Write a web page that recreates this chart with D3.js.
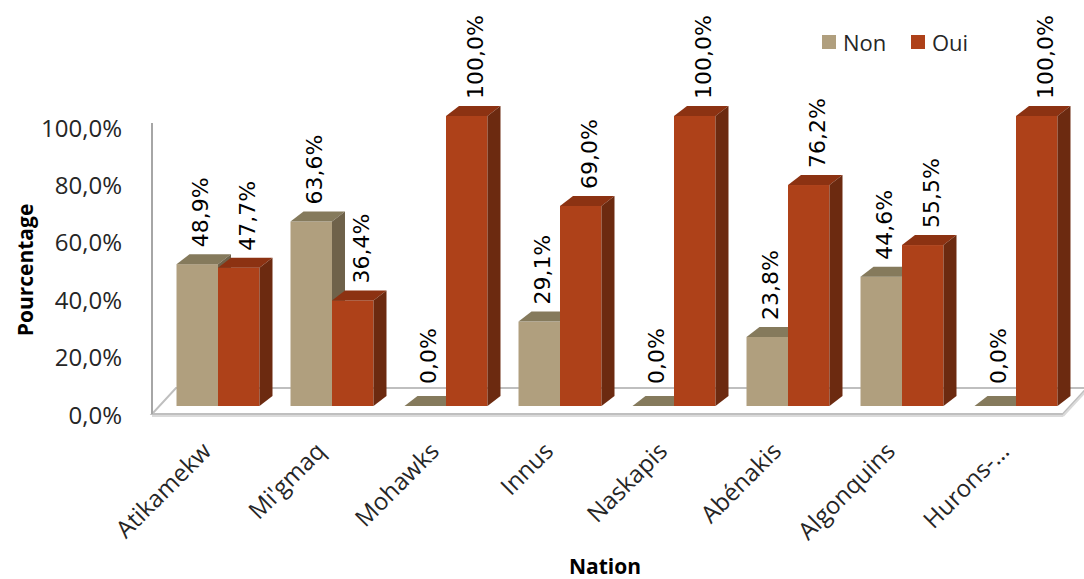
<!DOCTYPE html>
<html>
<head>
<meta charset="utf-8">
<script src="https://cdn.jsdelivr.net/npm/d3@7"></script>
<style>
  body { margin: 0; background: #fff; }
  text { fill: #000; }
</style>
</head>
<body>
<div id="barChart"></div>
<script>
// data
const categories = ["Atikamekw", "Mi'gmaq", "Mohawks", "Innus", "Naskapis", "Abénakis", "Algonquins", "Hurons-…"];
const nonValues = [48.9, 63.6, 0.0, 29.1, 0.0, 23.8, 44.6, 0.0];
const ouiValues = [47.7, 36.4, 100.0, 69.0, 100.0, 76.2, 55.5, 100.0];
const seriesNames = ["Non", "Oui"];
const yTicks = [0, 20, 40, 60, 80, 100];

const width = 1084,
  height = 579;

// colours: front, top, side
const colors = {
  Non: { front: "#b09f7e", top: "#857a5c", side: "#6f624a" },
  Oui: { front: "#ae4119", top: "#8c3212", side: "#6c2a10" },
};

// 3d depth of the bars and of the floor
const depth = { dx: 13, dy: 10 };
const floorDepth = { dx: 24, dy: 26 };

const svg = d3
  .select("#barChart")
  .append("svg")
  .attr("width", width)
  .attr("height", height);

const x = d3
  .scaleBand()
  .domain(categories)
  .range([161, 1073])
  .paddingInner(0.272)
  .paddingOuter(0.136);

const xSub = d3.scaleBand().domain(seriesNames).range([0, x.bandwidth()]);

// bars sit a bit back from the axis plane
const yBar = d3.scaleLinear().domain([0, 100]).range([406, 116]);
const yAxis = d3.scaleLinear().domain([0, 100]).range([414, 127]);

const fmt = function (v) {
  return v.toFixed(1).replace(".", ",") + "%";
};

// floor
const fx0 = 152,
  fx1 = 1063,
  fy = 414;
svg
  .append("polygon")
  .attr(
    "points",
    [
      [fx0, fy],
      [fx1, fy],
      [fx1 + floorDepth.dx, fy - floorDepth.dy],
      [fx0 + floorDepth.dx, fy - floorDepth.dy],
    ].join(" ")
  )
  .attr("fill", "#fff")
  .attr("stroke", "#bfbfbf")
  .attr("stroke-width", 2);
svg
  .append("line")
  .attr("x1", fx0)
  .attr("x2", fx1)
  .attr("y1", fy + 2)
  .attr("y2", fy + 2)
  .attr("stroke", "#dadada")
  .attr("stroke-width", 2);
svg
  .append("line")
  .attr("x1", fx1)
  .attr("y1", fy + 2)
  .attr("x2", fx1 + floorDepth.dx)
  .attr("y2", fy + 2 - floorDepth.dy)
  .attr("stroke", "#dadada")
  .attr("stroke-width", 2);

// y axis line
svg
  .append("line")
  .attr("x1", fx0)
  .attr("x2", fx0)
  .attr("y1", yAxis(100) - 4)
  .attr("y2", fy)
  .attr("stroke", "#a6a6a6")
  .attr("stroke-width", 2);

// y tick labels
svg
  .append("g")
  .selectAll("text")
  .data(yTicks)
  .enter()
  .append("text")
  .attr("x", 122)
  .attr("y", function (d) {
    return yAxis(d);
  })
  .attr("text-anchor", "end")
  .attr("dominant-baseline", "central")
  .style("font-family", "Open Sans")
  .style("font-size", "24px")
  .style("fill", "#262626")
  .text(fmt);

// bars
const rows = [];
categories.forEach(function (c, i) {
  rows.push({ cat: c, key: "Non", value: nonValues[i] });
  rows.push({ cat: c, key: "Oui", value: ouiValues[i] });
});

const bars = svg
  .append("g")
  .selectAll("g")
  .data(rows)
  .enter()
  .append("g");

bars.each(function (d) {
  const g = d3.select(this);
  const x0 = x(d.cat) + xSub(d.key),
    w = xSub.bandwidth(),
    top = yBar(d.value),
    base = yBar(0);
  const c = colors[d.key];

  g.append("rect")
    .attr("x", x0)
    .attr("y", top)
    .attr("width", w)
    .attr("height", base - top)
    .attr("fill", c.front);

  g.append("polygon")
    .attr(
      "points",
      [
        [x0, top],
        [x0 + depth.dx, top - depth.dy],
        [x0 + w + depth.dx, top - depth.dy],
        [x0 + w, top],
      ].join(" ")
    )
    .attr("fill", c.top);

  g.append("polygon")
    .attr(
      "points",
      [
        [x0 + w, top],
        [x0 + w + depth.dx, top - depth.dy],
        [x0 + w + depth.dx, base - depth.dy],
        [x0 + w, base],
      ].join(" ")
    )
    .attr("fill", c.side);
});

// data labels, rotated
svg
  .append("g")
  .selectAll("text")
  .data(rows)
  .enter()
  .append("text")
  .attr("transform", function (d) {
    const cx = x(d.cat) + xSub(d.key) + xSub.bandwidth() / 2 + (d.key == "Non" ? 3 : 9);
    const cy = yBar(d.value) - depth.dy - (d.value == 0 ? 12 : 7);
    return "translate(" + cx + "," + cy + ") rotate(-90)";
  })
  .attr("dominant-baseline", "central")
  .style("font-family", "DejaVu Sans")
  .style("font-size", "22px")
  .text(function (d) {
    return fmt(d.value);
  });

// category labels
svg
  .append("g")
  .selectAll("text")
  .data(categories)
  .enter()
  .append("text")
  .attr("transform", function (d) {
    const cx = x(d) + x.bandwidth() / 2 - 12;
    return "translate(" + cx + ",446) rotate(-45)";
  })
  .attr("text-anchor", "end")
  .attr("dominant-baseline", "central")
  .style("font-family", "Open Sans")
  .style("font-size", "24px")
  .style("fill", "#262626")
  .text(function (d) {
    return d;
  });

// axis titles
svg
  .append("text")
  .attr("transform", "translate(25,270) rotate(-90)")
  .attr("text-anchor", "middle")
  .attr("dominant-baseline", "central")
  .style("font-family", "Open Sans")
  .style("font-weight", "bold")
  .style("font-size", "21px")
  .text("Pourcentage");

svg
  .append("text")
  .attr("x", 605)
  .attr("y", 566)
  .attr("text-anchor", "middle")
  .attr("dominant-baseline", "central")
  .style("font-family", "Open Sans")
  .style("font-weight", "bold")
  .style("font-size", "21px")
  .text("Nation");

// legend
const legend = svg
  .append("g")
  .selectAll("g")
  .data(seriesNames)
  .enter()
  .append("g")
  .attr("transform", function (d, i) {
    return "translate(" + (822 + i * 89) + ",35)";
  });
legend
  .append("rect")
  .attr("width", 14)
  .attr("height", 14)
  .attr("fill", function (d) {
    return colors[d].front;
  });
legend
  .append("text")
  .attr("x", 21)
  .attr("y", 7)
  .attr("dominant-baseline", "central")
  .style("font-family", "Open Sans")
  .style("font-size", "22px")
  .style("fill", "#262626")
  .text(function (d) {
    return d;
  });
</script>
</body>
</html>
